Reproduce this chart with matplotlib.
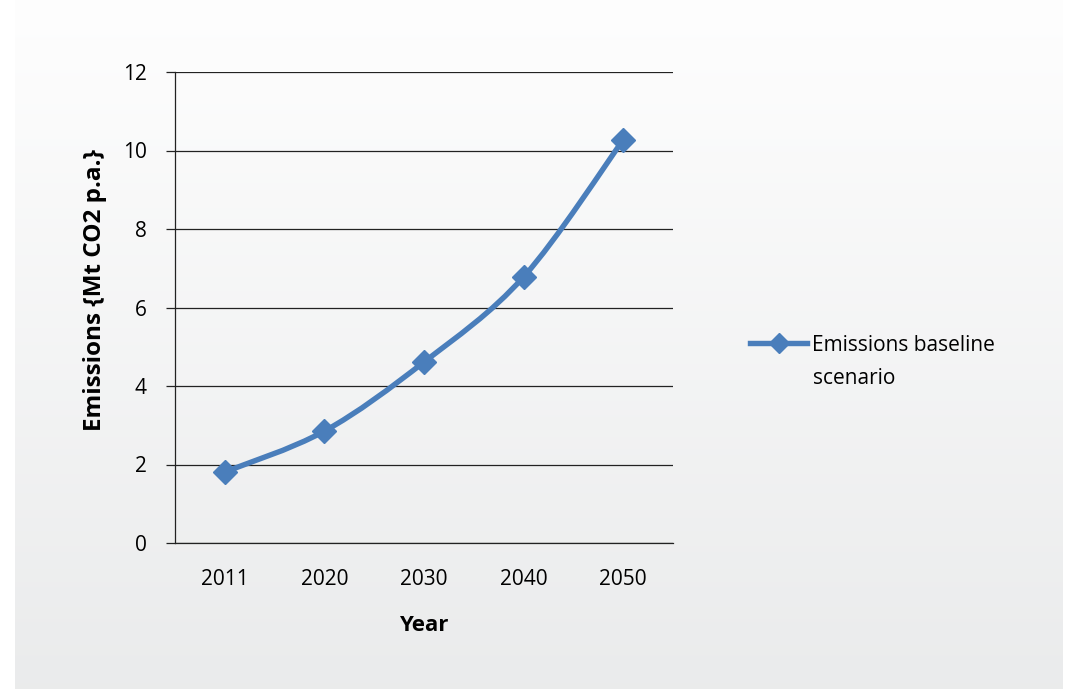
import numpy as np
import matplotlib
matplotlib.use("Agg")
import matplotlib.pyplot as plt
from matplotlib.path import Path
from matplotlib.patches import PathPatch
from matplotlib.lines import Line2D

plt.rcParams['font.family'] = ['Open Sans', 'DejaVu Sans']

years = ["2011", "2020", "2030", "2040", "2050"]
emissions = [1.81, 2.85, 4.61, 6.78, 10.27]
series_label = "Emissions baseline\nscenario"
y_ticks = [0, 2, 4, 6, 8, 10, 12]

BLUE = '#4a7ebb'
W, H = 1065, 689
fig = plt.figure(figsize=(W / 100, H / 100), dpi=100)
fig.patch.set_facecolor('white')

# gradient panel background
bg = fig.add_axes([15 / W, 0, 1048 / W, 1])
grad = np.linspace(0, 1, 256)[:, None]
c_top = np.array([0.996, 0.996, 0.996])
c_bot = np.array([0.918, 0.922, 0.925])
img = c_top[None, None, :] * (1 - grad[..., None]) + c_bot[None, None, :] * grad[..., None]
img = np.repeat(img, 2, axis=1)
bg.imshow(img, aspect='auto', extent=[0, 1, 0, 1], origin='upper')
bg.set_axis_off()
bg.set_zorder(0)

ax = fig.add_axes([175 / W, 1 - 543 / H, 498 / W, 471 / H])
ax.set_zorder(1)
ax.set_facecolor('none')

x = np.arange(len(years), dtype=float)
y = np.array(emissions, dtype=float)

# smoothed line (Excel-style Catmull-Rom Bezier)
pts = np.column_stack([x, y])
verts = [tuple(pts[0])]
codes = [Path.MOVETO]
n = len(pts)
for i in range(n - 1):
    p0 = pts[i - 1] if i > 0 else pts[i]
    p1 = pts[i]
    p2 = pts[i + 1]
    p3 = pts[i + 2] if i + 2 < n else pts[i + 1]
    c1 = p1 + (p2 - p0) / 6.0
    c2 = p2 - (p3 - p1) / 6.0
    verts += [tuple(c1), tuple(c2), tuple(p2)]
    codes += [Path.CURVE4] * 3
ax.add_patch(PathPatch(Path(verts, codes), facecolor='none', edgecolor=BLUE,
                       lw=3.9, capstyle='round', joinstyle='round', zorder=3))
ax.plot(x, y, ls='none', marker='D', ms=12.5, color=BLUE, mec=BLUE, zorder=4)

ax.set_xlim(-0.5, len(years) - 0.5)
ax.set_ylim(0, 12)
ax.set_yticks(y_ticks)
ax.set_xticks(x)
ax.set_xticklabels(years)
ax.grid(axis='y', color='#222222', lw=0.9, zorder=1)
ax.set_axisbelow(True)
for s in ['top', 'right']:
    ax.spines[s].set_visible(False)
ax.spines['left'].set_color('#222222')
ax.spines['left'].set_linewidth(0.9)
ax.spines['bottom'].set_color('#222222')
ax.spines['bottom'].set_linewidth(0.9)
ax.tick_params(axis='y', length=6.5, width=0.9, color='#222222', pad=14, labelsize=15)
ax.tick_params(axis='x', length=0, pad=19, labelsize=15)

ax.set_ylabel("Emissions {Mt CO2 p.a.}", fontsize=17.5, fontweight='bold')
ax.yaxis.set_label_coords(-0.137, 0.537)
ax.set_xlabel("Year", fontsize=16, fontweight='bold', labelpad=18)

handle = Line2D([], [], color=BLUE, lw=3.9, marker='D', ms=10, mec=BLUE)
leg = ax.legend([handle], [series_label], loc='center left',
                bbox_to_anchor=(750 / W, 1 - 362 / H), bbox_transform=fig.transFigure,
                frameon=False, fontsize=15, handlelength=2.75, handletextpad=0.25,
                borderpad=0, borderaxespad=0)
for t in leg.get_texts():
    t.set_linespacing(1.72)
try:
    for col in leg._legend_handle_box.get_children():
        for hp in col.get_children():
            hp.align = 'top'
except Exception:
    pass

fig.savefig('out.png', dpi=100)
